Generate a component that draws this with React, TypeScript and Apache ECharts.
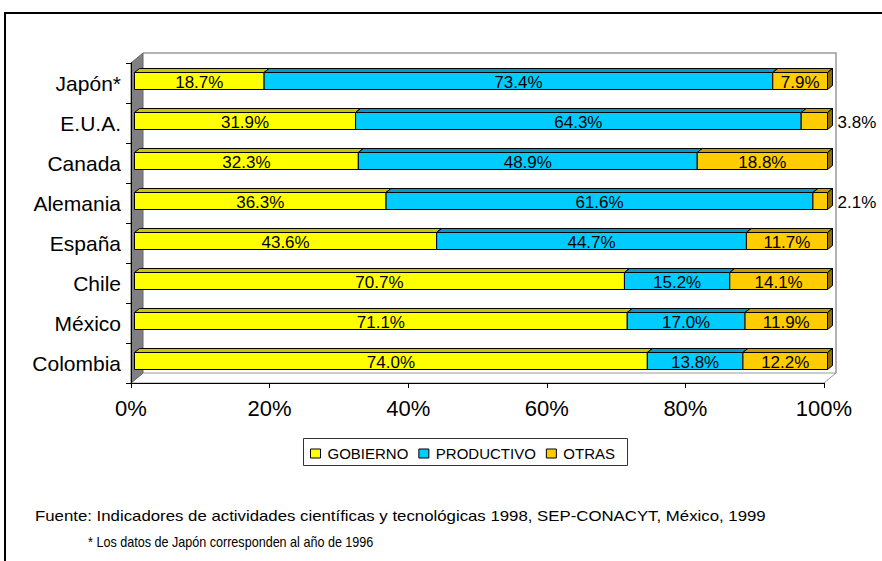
import React, { useEffect, useRef } from "react";
import * as echarts from "echarts";

const categories = ["Japón*", "E.U.A.", "Canada", "Alemania", "España", "Chile", "México", "Colombia"];
const seriesNames = ["GOBIERNO", "PRODUCTIVO", "OTRAS"];
const gobierno = [18.7, 31.9, 32.3, 36.3, 43.6, 70.7, 71.1, 74.0];
const productivo = [73.4, 64.3, 48.9, 61.6, 44.7, 15.2, 17.0, 13.8];
const otras = [7.9, 3.8, 18.8, 2.1, 11.7, 14.1, 11.9, 12.2];
const xTickStep = 20;
const footnotes = [
  "Fuente: Indicadores de actividades científicas y tecnológicas 1998, SEP-CONACYT, México, 1999",
  "* Los datos de Japón corresponden al año de 1996",
];

const FONT = "'Liberation Sans', Arial, Helvetica, sans-serif";
const palette = [
  { front: "#FFFF00", top: "#C8C800", side: "#999900" },
  { front: "#00CCFF", top: "#0099CC", side: "#007399" },
  { front: "#FFCC00", top: "#CC9900", side: "#8C6B00" },
];

function buildStacks() {
  const all = [gobierno, productivo, otras];
  const out: number[][][] = [[], [], []];
  categories.forEach((_, i) => {
    let acc = 0;
    all.forEach((arr, s) => {
      const v = arr[i];
      out[s].push([i, acc, acc + v, v]);
      acc += v;
    });
  });
  return out;
}

export default function App() {
  const ref = useRef<HTMLDivElement>(null);
  useEffect(() => {
    if (!ref.current) return;
    const chart = echarts.init(ref.current, null, { renderer: "svg" });
    const stacks = buildStacks();

    const barSeries = stacks.map((data, s) => ({
      type: "custom",
      name: seriesNames[s],
      coordinateSystem: "cartesian2d",
      itemStyle: { color: palette[s].front, borderColor: "#000", borderWidth: 1 },
      encode: { x: [1, 2], y: 0 },
      z: 3 + s,
      data,
      renderItem: (params: any, api: any) => {
        const cat = api.value(0);
        const v0 = api.value(1);
        const v1 = api.value(2);
        const v = api.value(3);
        const p0 = api.coord([v0, cat]);
        const p1 = api.coord([v1, cat]);
        const h = 17;
        const ox = 3.5, oy = -2;
        const dx = 5, dy = -4;
        const left = p0[0] + ox;
        const right = p1[0] + ox;
        const cy = p0[1] + oy;
        const top = cy - h / 2;
        const bot = cy + h / 2;
        const c = palette[s];
        const stroke = { stroke: "#000", lineWidth: 1 };
        const small = v < 5;
        return {
          type: "group",
          children: [
            {
              type: "polygon",
              shape: { points: [[left, top], [left + dx, top + dy], [right + dx, top + dy], [right, top]] },
              style: { fill: c.top, ...stroke },
            },
            {
              type: "polygon",
              shape: { points: [[right, top], [right + dx, top + dy], [right + dx, bot + dy], [right, bot]] },
              style: { fill: c.side, ...stroke },
            },
            {
              type: "rect",
              shape: { x: left, y: top, width: right - left, height: h },
              style: { fill: c.front, ...stroke },
            },
            {
              type: "text",
              style: {
                text: v.toFixed(1) + "%",
                x: small ? right + 10 : (left + right) / 2,
                y: cy + 1,
                align: small ? "left" : "center",
                verticalAlign: "middle",
                fontSize: 17,
                fontFamily: FONT,
                fill: "#000",
              },
            },
          ],
        };
      },
    }));

    const wallSeries = {
      type: "custom",
      name: "walls",
      coordinateSystem: "cartesian2d",
      silent: true,
      z: -1,
      data: [[0, 0]],
      renderItem: (params: any) => {
        const cs = params.coordSys;
        const X = cs.x, Y = cs.y, W = cs.width, H = cs.height;
        const wx = 12, wy = -10;
        return {
          type: "group",
          children: [
            {
              type: "polygon",
              shape: { points: [[X, Y + H], [X + wx, Y + H + wy], [X + W + wx, Y + H + wy], [X + W, Y + H]] },
              style: { fill: "#fff", stroke: "#999", lineWidth: 1 },
            },
            {
              type: "polyline",
              shape: { points: [[X + wx, Y + wy], [X + W + wx, Y + wy], [X + W + wx, Y + H + wy]] },
              style: { fill: "none", stroke: "#999", lineWidth: 1.5 },
            },
            {
              type: "polygon",
              shape: { points: [[X, Y], [X + wx, Y + wy], [X + wx, Y + H + wy], [X, Y + H]] },
              style: { fill: "#808080", stroke: "#666", lineWidth: 1 },
            },
          ],
        };
      },
    };

    chart.setOption({
      animation: false,
      backgroundColor: "#fff",
      grid: { left: 131, right: 58, top: 63, bottom: 178, containLabel: false },
      xAxis: {
        type: "value",
        min: 0,
        max: 100,
        interval: xTickStep,
        axisLine: { show: true, lineStyle: { color: "#000", width: 1 } },
        axisTick: { show: true, length: 5, lineStyle: { color: "#000" } },
        splitLine: { show: false },
        axisLabel: { formatter: "{value}%", fontSize: 22, color: "#000", fontFamily: FONT, margin: 14 },
      },
      yAxis: {
        type: "category",
        inverse: true,
        data: categories,
        axisLine: { show: true, lineStyle: { color: "#000", width: 1 } },
        axisTick: { show: true, length: 5, lineStyle: { color: "#000" } },
        axisLabel: { fontSize: 21, color: "#000", fontFamily: FONT, margin: 10 },
      },
      legend: {
        data: seriesNames,
        left: 310,
        top: 446,
        padding: 0,
        itemWidth: 10,
        itemHeight: 9,
        itemGap: 10,
        icon: "rect",
        itemStyle: { borderColor: "#000", borderWidth: 1 },
        textStyle: { fontSize: 15, color: "#000", fontFamily: FONT, padding: [0, 0, 0, 2] },
      },
      graphic: [
        {
          type: "rect",
          shape: { x: 5, y: 13, width: 1000, height: 1000 },
          style: { fill: "none", stroke: "#000", lineWidth: 2 },
          silent: true,
        },
        {
          type: "rect",
          shape: { x: 303.5, y: 438.5, width: 324, height: 27 },
          style: { fill: "none", stroke: "#333", lineWidth: 1 },
          silent: true,
        },
        {
          type: "text",
          x: 35,
          y: 516,
          scaleX: 1.2,
          style: { text: footnotes[0], fontSize: 14, fontFamily: FONT, fill: "#000", verticalAlign: "middle" },
        },
        {
          type: "text",
          x: 88,
          y: 542,
          scaleX: 0.9,
          style: { text: footnotes[1], fontSize: 14, fontFamily: FONT, fill: "#000", verticalAlign: "middle" },
        },
      ],
      series: [wallSeries, ...barSeries],
    });
    return () => chart.dispose();
  }, []);
  return <div ref={ref} style={{ position: "absolute", left: 0, top: 0, width: 882, height: 561 }} />;
}
